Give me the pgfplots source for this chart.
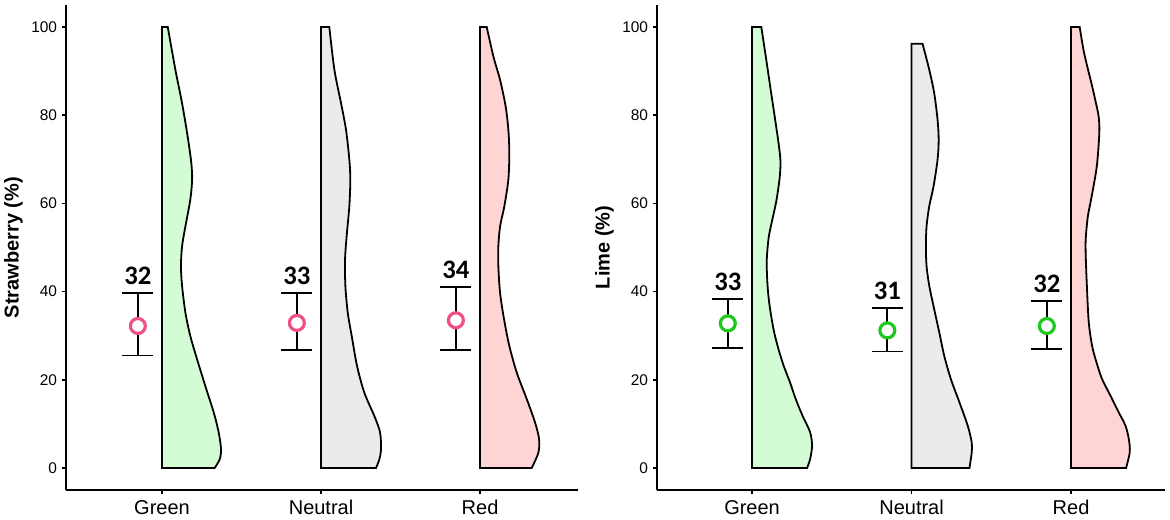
\documentclass[border=0pt]{standalone}
\usepackage{pgfplots}
\pgfplotsset{compat=1.18}
\usepackage{pgfplotstable}
\usepackage{fontspec}
\setmainfont{Liberation Sans}
\newfontfamily\calibri{Carlito}
\definecolor{gfill}{RGB}{212,252,212}
\definecolor{nfill}{RGB}{235,235,235}
\definecolor{rfill}{RGB}{255,212,212}
\definecolor{pinkpt}{RGB}{240,80,130}
\definecolor{greenpt}{RGB}{30,200,30}

% half-violin right edges: y, width (in category units)
\pgfplotstableread{
y w
0 .331
2 .363
4.3 .371
8.1 .356
12.6 .325
18.6 .272
24.7 .220
29.9 .178
35.2 .147
41.3 .126
45.8 .119
50.3 .126
54.8 .147
60.9 .178
65.4 .189
69.2 .184
75.2 .161
82.7 .126
90.3 .084
100 .036
}\LG
\pgfplotstableread{
y w
0 .346
2 .367
4.3 .377
8.1 .371
11.8 .335
17.1 .272
23.2 .226
29.9 .193
35.2 .168
41.3 .153
47.3 .151
52.6 .161
59.4 .178
65.4 .184
69.9 .178
76.7 .157
82.7 .126
90.3 .084
100 .052
}\LN
\pgfplotstableread{
y w
0 .325
3.5 .367
6.6 .371
10.3 .346
15.6 .294
21.6 .231
27.7 .184
33.7 .151
39.7 .126
45.8 .115
50.3 .115
54.8 .126
59.4 .153
65.4 .178
71.4 .184
76.7 .178
82.0 .161
88.0 .126
93.3 .084
100 .042
}\LR
\pgfplotstableread{
y w
0 .345
2 .364
5 .376
8.1 .364
11.8 .317
15.6 .274
19.4 .238
23.1 .199
26.9 .166
30.7 .139
34.4 .120
38.2 .105
42.0 .096
47.0 .092
52.2 .104
56.0 .125
60.5 .152
65.8 .173
69.6 .178
73.4 .167
78.7 .146
86.2 .115
93.8 .084
100 .058
}\RG
\pgfplotstableread{
y w
0 .363
3.5 .377
5.8 .377
9.6 .352
14.9 .300
20.1 .247
25.4 .205
30.7 .174
36.0 .142
41.3 .111
45.8 .094
50.3 .090
54.8 .094
59.4 .111
63.9 .138
69.9 .163
74.4 .170
79.0 .163
85.0 .142
90.3 .111
96.2 .069
}\RN
\pgfplotstableread{
y w
0 .345
3.6 .368
6.6 .362
9.6 .341
12.6 .299
16.4 .247
20.2 .194
24.0 .159
27.7 .132
33.0 .111
40.6 .100
48.1 .092
52.0 .092
57.0 .105
60.8 .125
68.3 .161
75.9 .177
79.7 .173
83.4 .152
87.2 .128
91.0 .102
94.8 .078
100 .054
}\RR

\newcommand{\violin}[4]{% table, category, fill, top y
\addplot[fill=#3, draw=black, line width=1.35pt, smooth] table[x expr=\thisrow{w}+#2, y=y] {#1} -- (axis cs:#2,#4) -- (axis cs:#2,0) -- cycle;
}
\newcommand{\ebar}[5]{% xc, xl, xr, lo, hi
\addplot[black, line width=1.4pt] coordinates {(#1,#4) (#1,#5)};
\addplot[black, line width=1.4pt] coordinates {(#2,#4) (#3,#4)};
\addplot[black, line width=1.4pt] coordinates {(#2,#5) (#3,#5)};
}
\tikzset{numlab/.style={font=\calibri\bfseries\fontsize{20}{22}\selectfont, anchor=base, inner sep=0pt}}
\pgfplotsset{
  raincloud/.style={
    scale only axis,
    anchor=south west,
    height=363.75pt,
    ymin=-5, ymax=105,
    axis lines=left,
    axis line style={-, line width=1.5pt, black},
    tick style={line width=1.2pt, black},
    tick align=outside,
    major tick length=3pt,
    xtick={1,2,3},
    xticklabels={Green,Neutral,Red},
    ytick={0,20,40,60,80,100},
    /pgf/number format/assume math mode=true,
    yticklabel style={font=\fontsize{11.6}{13}\selectfont, inner sep=0pt, xshift=-3.5pt},
    xticklabel style={font=\fontsize{15}{17}\selectfont, inner sep=0pt, yshift=-4.5pt},
    ylabel style={at={(axis description cs:0,0.5)}, anchor=center, yshift=39.4pt, font=\bfseries\fontsize{15}{17}\selectfont},
    clip=false,
  },
}

\begin{document}
\begin{tikzpicture}
\useasboundingbox (0,0) rectangle (877.5pt,389.25pt);
% Left panel
\begin{axis}[raincloud, at={(49.5pt,21.75pt)}, width=384pt, xmin=0.396, xmax=3.616, ylabel={Strawberry (\%)}]
\violin{\LG}{1}{gfill}{100}
\violin{\LN}{2}{nfill}{100}
\violin{\LR}{3}{rfill}{100}
\ebar{0.848}{0.751}{0.945}{25.5}{39.6}
\ebar{1.848}{1.751}{1.945}{26.8}{39.6}
\ebar{2.848}{2.751}{2.945}{26.8}{41.0}
\addplot[only marks, mark=*, mark size=5.6pt, mark options={draw=pinkpt, fill=white, line width=2.4pt}] coordinates {(0.848,32.2) (1.848,32.9) (2.848,33.5)};
\node[numlab] at (axis cs:0.848,41.5) {32};
\node[numlab] at (axis cs:1.848,41.5) {33};
\node[numlab] at (axis cs:2.848,42.9) {34};
\end{axis}
% Right panel
\begin{axis}[raincloud, at={(492.75pt,21.75pt)}, width=381pt, xmin=0.404, xmax=3.589, ylabel={Lime (\%)}]
\violin{\RG}{1}{gfill}{100}
\violin{\RN}{2}{nfill}{96.2}
\violin{\RR}{3}{rfill}{100}
\ebar{0.848}{0.751}{0.945}{27.3}{38.4}
\ebar{1.848}{1.751}{1.945}{26.4}{36.3}
\ebar{2.848}{2.751}{2.945}{26.9}{37.8}
\addplot[only marks, mark=*, mark size=5.6pt, mark options={draw=greenpt, fill=white, line width=2.4pt}] coordinates {(0.848,32.8) (1.848,31.2) (2.848,32.2)};
\node[numlab] at (axis cs:0.848,40.3) {33};
\node[numlab] at (axis cs:1.848,38.2) {31};
\node[numlab] at (axis cs:2.848,39.7) {32};
\end{axis}
\end{tikzpicture}
\end{document}
